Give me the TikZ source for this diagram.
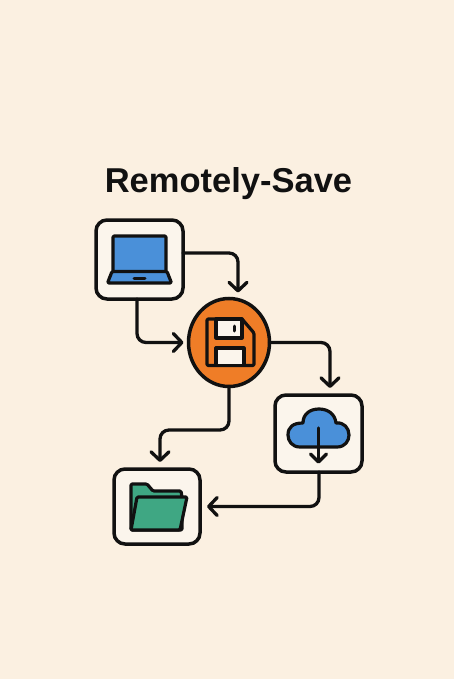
\documentclass[tikz,border=0pt]{standalone}
\usepackage{fontspec}
\setmainfont{Liberation Sans}
\usetikzlibrary{arrows.meta,shapes.geometric}
\definecolor{bgc}{HTML}{FBF0E1}
\definecolor{boxc}{HTML}{FBF5EC}
\definecolor{ink}{HTML}{111111}
\definecolor{bluec}{HTML}{4A90D9}
\definecolor{orangec}{HTML}{EF7D27}
\definecolor{greenc}{HTML}{3FA783}
\tikzset{
  tile/.style={draw=ink,fill=boxc,line width=3.5pt,rounded corners=11pt,inner sep=0pt,outer sep=0pt},
  conn/.style={draw=ink,line width=3.3pt,rounded corners=9pt,line cap=round,
    -{Straight Barb[length=8.5pt,width=18pt,line width=3.3pt,round]}},
  icon/.style={draw=ink,line width=3.2pt,line join=round,rounded corners=1.2pt},
  iconline/.style={draw=ink,line width=3.2pt,line cap=round,line join=round},
}
\begin{document}
\begin{tikzpicture}[x=1pt,y=-1pt]
\path[fill=bgc,use as bounding box] (0,0) rectangle (454,679);
\node[font=\bfseries\fontsize{34.5}{36}\selectfont,text=ink,inner sep=0pt,anchor=base] (title) at (228.5,192) {Remotely-Save};
\node[tile,minimum width=87pt,minimum height=79pt] (lap) at (139.5,259.5) {};
\node[draw=ink,fill=orangec,line width=3.5pt,ellipse,inner sep=0pt,outer sep=0pt,minimum width=81pt,minimum height=88pt] (disk) at (229,342.5) {};
\node[tile,minimum width=87pt,minimum height=77pt] (cloud) at (318.5,433.5) {};
\node[tile,minimum width=86pt,minimum height=75pt] (fold) at (157,506.5) {};
\coordinate (bend) at (190,430);
% connectors
\draw[conn,shorten >=6pt] ([yshift=6.5pt]lap.east) -| ([xshift=9pt]disk.north);
\draw[conn,shorten >=5pt] ([xshift=-2.5pt]lap.south) |- (disk.west);
\draw[conn,shorten >=7pt] (disk.east) -| ([xshift=11.5pt]cloud.north);
\draw[conn,shorten >=7pt] (disk.south) -- (disk.south |- bend) -- ([xshift=3pt]fold.north |- bend) -- ([xshift=3pt]fold.north);
\draw[conn,shorten >=7pt] ([xshift=.5pt]cloud.south) |- (fold.east);
% laptop
\draw[icon,fill=bluec] (113,236) -- (166,236) -- (166,272) -- (113,272) -- cycle;
\draw[icon,fill=bluec] (112,271.5) -- (167,271.5) -- (171.5,283) -- (107.5,283) -- cycle;
\draw[iconline,line width=3pt] (134,278) -- (145,278);
% floppy
\draw[icon,fill=orangec] (207,319) -- (242,319) -- (254,333) -- (254,365.5) -- (207,365.5) -- cycle;
\draw[iconline,fill=boxc] (216,319) rectangle (242,338);
\draw[iconline,fill=boxc] (216,348) rectangle (244,365.5);
\draw[iconline,line width=3pt] (234,326) -- (234,331);
% cloud
\draw[iconline,fill=bluec] (300,447) .. controls (292,447) and (288,441) .. (288,435)
  .. controls (288,427) and (293,423) .. (303,423)
  .. controls (303,414) and (310,409) .. (319,409)
  .. controls (328,409) and (335,414) .. (336,423)
  .. controls (344,422) and (349,428) .. (349,435)
  .. controls (349,441) and (345,447) .. (337,447) -- cycle;
\draw[iconline] (318.5,428) -- (318.5,461);
\draw[iconline] (310.5,454) -- (318.5,462) -- (326.5,454);
% folder
\draw[icon,fill=greenc] (131,530) -- (131,484) -- (147,484) -- (153,491) -- (181,491) -- (182,497) -- (182,530) -- cycle;
\draw[icon,fill=greenc] (137,497) -- (187,497) -- (180,530) -- (131,530) -- cycle;
\end{tikzpicture}
\end{document}
